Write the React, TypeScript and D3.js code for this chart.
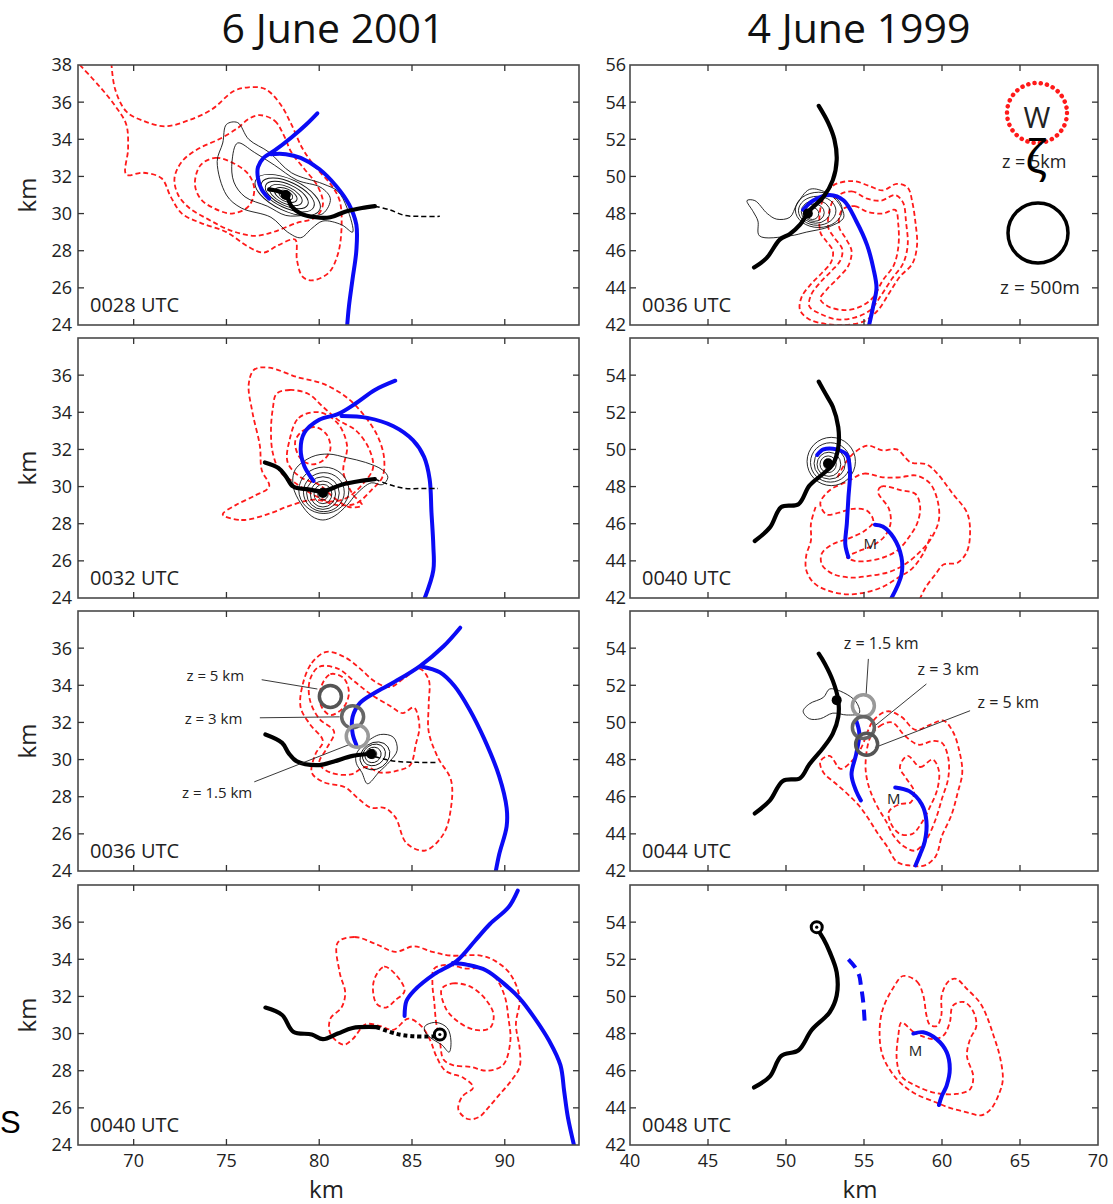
import React from "react";
import * as d3 from "d3";

type Pt = [number, number];
// ring: cx, cy, rx, ry (km), tilt in degrees
type Ring = [number, number, number, number, number];
// note: text, text x, text y, line from x, y, line to x, y
type Note = [string, number, number, number, number, number, number];
type Mark = [number, number, string];

const titles = ["6 June 2001", "4 June 1999"];
const xTicksLeft = [70, 75, 80, 85, 90];
const yTicksLeft = [24, 26, 28, 30, 32, 34, 36, 38];
const xTicksRight = [40, 45, 50, 55, 60, 65, 70];
const yTicksRight = [42, 44, 46, 48, 50, 52, 54, 56];
const timesLeft = ["0028 UTC", "0032 UTC", "0036 UTC", "0040 UTC"];
const timesRight = ["0036 UTC", "0040 UTC", "0044 UTC", "0048 UTC"];

// ---------- 6 June 2001, 0028 UTC ----------
const red0028: Pt[][] = [
  [[67.1, 38], [68.2, 36.8], [69.0, 35.8], [69.6, 34.8], [69.7, 33.5], [69.6, 32.1], [70.5, 32.2], [71.5, 31.9], [72.0, 30.9], [72.6, 30.0], [73.6, 29.5], [75.0, 29.0], [76.2, 28.2], [77.0, 27.9], [77.8, 28.3], [78.7, 28.6], [78.8, 27.5], [79.1, 26.6], [79.6, 26.4], [80.5, 26.8], [81.0, 27.8], [81.2, 29.2], [81.1, 30.7], [80.6, 31.6], [79.8, 32.5], [79.1, 33.5], [78.5, 34.8], [77.9, 35.9], [77.1, 36.7], [76.2, 36.8], [75.4, 36.6], [74.2, 35.6], [72.9, 35.0], [71.7, 34.7], [70.5, 35.0], [69.6, 35.5], [69.0, 36.7], [68.8, 38.1]],
  [[76.8, 35.3], [77.6, 35.0], [78.1, 34.2], [78.5, 33.3], [79.2, 32.4], [79.9, 31.5], [80.2, 30.5], [79.8, 29.8], [78.8, 29.5], [77.5, 29.0], [76.5, 28.8], [75.2, 29.1], [74.0, 29.7], [73.0, 30.3], [72.4, 31.0], [72.2, 31.9], [72.6, 32.8], [73.5, 33.5], [74.6, 34.0], [75.6, 34.6], [76.2, 35.1], [76.8, 35.3]],
  [[73.6, 32.6], [74.4, 33.0], [75.4, 32.7], [76.2, 32.1], [76.5, 31.3], [76.2, 30.4], [75.3, 30.0], [74.3, 30.3], [73.6, 30.8], [73.3, 31.6], [73.6, 32.6]],
];
const blue0028: Pt[][] = [
  [[79.9, 35.4], [79.3, 34.8], [78.5, 34.1], [77.6, 33.4], [77.0, 33.0], [76.7, 32.5], [76.7, 31.9], [76.9, 31.3], [77.3, 30.8]],
  [[77.4, 33.2], [78.2, 33.2], [79.0, 33.0], [80.0, 32.4], [80.9, 31.5], [81.6, 30.5], [82.0, 29.4], [82.0, 28.0], [81.8, 26.5], [81.6, 25.0], [81.5, 23.9]],
];
const track0028: Pt[] = [[77.3, 31.3], [77.8, 31.2], [78.2, 31.0], [78.5, 30.4], [79.0, 30.0], [79.8, 29.8], [80.6, 29.8], [81.4, 30.1], [82.3, 30.3], [83.0, 30.4]];
const ext0028: Pt[] = [[83.0, 30.4], [83.8, 30.2], [84.6, 29.9], [85.4, 29.85], [86.5, 29.85]];
const thin0028: Pt[][] = [
  [[75.0, 34.8], [75.6, 34.9], [76.2, 34.0], [77.3, 33.3], [78.5, 32.2], [80.2, 31.6], [81.0, 31.2], [81.5, 30.3], [81.8, 29.0], [81.2, 29.4], [80.2, 29.6], [79.6, 29.2], [79.0, 28.7], [78.3, 29.0], [77.4, 29.8], [75.8, 30.3], [75.0, 31.0], [74.5, 32.8], [74.8, 33.8], [75.0, 34.8]],
  [[75.6, 33.8], [76.5, 33.3], [77.6, 32.6], [78.8, 31.8], [80.1, 31.4], [80.6, 30.8], [80.2, 30.0], [79.2, 29.9], [78.2, 29.9], [77.2, 30.4], [76.0, 30.9], [75.4, 31.7], [75.3, 32.8], [75.6, 33.8]],
];
const rings0028: Ring[] = [[78.3, 31.0, 1.9, 0.85, 25], [78.3, 31.0, 1.55, 0.7, 25], [78.25, 31.0, 1.25, 0.57, 25], [78.2, 31.0, 0.95, 0.45, 25], [78.2, 31.0, 0.65, 0.33, 25], [78.2, 31.0, 0.4, 0.22, 25]];
const marks0028: Mark[] = [[78.2, 31.0, "dot"]];

// ---------- 6 June 2001, 0032 UTC ----------
const red0032: Pt[][] = [
  [[74.8, 28.5], [75.8, 28.2], [77.2, 28.5], [78.5, 29.0], [79.8, 29.3], [81.0, 29.0], [82.0, 29.1], [82.8, 29.8], [83.4, 30.5], [83.5, 31.5], [83.2, 32.6], [82.6, 33.6], [81.6, 34.7], [80.3, 35.5], [78.8, 35.9], [77.3, 36.4], [76.5, 36.3], [76.2, 35.5], [76.4, 34.0], [76.8, 32.2], [76.9, 30.9], [77.3, 30.0], [76.5, 29.5], [75.5, 29.0], [74.8, 28.5]],
  [[77.7, 35.0], [78.4, 35.2], [79.4, 35.0], [80.2, 34.3], [81.0, 33.6], [82.0, 33.0], [82.7, 32.0], [82.9, 31.0], [82.4, 30.2], [81.5, 29.4], [80.6, 29.2], [79.6, 29.6], [78.7, 30.2], [77.9, 30.8], [77.5, 31.8], [77.4, 33.0], [77.5, 34.2], [77.7, 35.0]],
  [[78.4, 32.5], [78.9, 33.7], [80.0, 34.0], [81.0, 33.4], [81.5, 32.2], [81.3, 30.8], [81.8, 29.6], [82.3, 29.0], [81.6, 28.9], [80.8, 29.4], [80.0, 30.1], [79.0, 30.5], [78.3, 31.3], [78.4, 32.5]],
  [[78.7, 32.4], [79.1, 33.0], [79.8, 33.2], [80.4, 32.8], [80.6, 32.0], [80.2, 31.4], [79.6, 31.2], [79.0, 31.5], [78.7, 32.4]],
];
const blue0032: Pt[][] = [
  [[84.1, 35.7], [83.0, 35.2], [82.0, 34.5], [81.0, 33.9], [80.0, 33.6], [79.2, 32.9], [79.0, 32.0], [79.2, 31.1], [79.7, 30.3]],
  [[81.2, 33.8], [82.6, 33.7], [84.0, 33.25], [85.05, 32.5], [85.65, 31.6], [85.95, 30.4], [86.05, 28.6], [86.15, 26.8], [86.15, 25.5], [85.65, 23.9]],
];
const track0032: Pt[] = [[77.07, 31.3], [77.8, 31.0], [78.2, 30.55], [78.6, 30.0], [79.4, 29.85], [80.2, 29.75], [81.2, 30.1], [82.2, 30.3], [83.0, 30.4]];
const ext0032: Pt[] = [[83.0, 30.4], [83.8, 30.1], [84.65, 29.9], [85.5, 29.9], [86.4, 29.9]];
const thin0032: Pt[][] = [
  [[78.7, 30.9], [79.6, 31.6], [80.5, 31.75], [81.5, 31.55], [82.5, 31.3], [83.4, 30.9], [83.7, 30.5], [83.4, 30.1], [82.8, 30.2], [82.0, 29.6], [81.5, 29.0], [80.8, 28.4], [80.2, 28.2], [79.6, 28.4], [79.0, 29.1], [78.6, 30.0], [78.7, 30.9]],
];
const rings0032: Ring[] = [[80.25, 29.8, 1.35, 1.25, 0], [80.25, 29.7, 1.1, 1.05, 0], [80.2, 29.65, 0.88, 0.88, 0], [80.2, 29.6, 0.68, 0.7, 0], [80.2, 29.6, 0.48, 0.52, 0], [80.2, 29.6, 0.28, 0.32, 0]];
const marks0032: Mark[] = [[80.2, 29.65, "dot"]];

// ---------- 6 June 2001, 0036 UTC ----------
const red0036a: Pt[][] = [
  [[79.1, 34.0], [79.6, 35.2], [80.4, 35.8], [81.4, 35.5], [82.2, 34.9], [83.0, 34.2], [83.8, 33.9], [84.6, 34.4], [85.4, 34.9], [85.9, 34.3], [85.9, 33.0], [85.9, 31.5], [86.4, 30.1], [87.1, 28.9], [87.1, 27.4], [86.7, 26.0], [85.7, 25.1], [84.7, 25.5], [84.1, 26.9], [83.5, 27.4], [82.8, 27.4], [82.1, 27.9], [81.4, 28.5], [80.2, 28.8], [79.6, 29.3], [79.8, 30.3], [80.2, 31.0], [79.5, 31.9], [79.0, 32.8], [79.1, 34.0]],
  [[79.5, 34.3], [80.0, 35.0], [81.0, 34.9], [81.9, 34.2], [82.8, 33.5], [83.8, 32.9], [84.5, 32.5], [85.1, 32.8], [85.4, 31.8], [85.2, 30.8], [84.9, 29.7], [84.2, 29.4], [83.3, 29.3], [82.5, 29.6], [81.7, 29.2], [80.6, 29.3], [80.0, 29.8], [80.4, 30.6], [80.8, 31.5], [80.0, 32.2], [79.5, 33.2], [79.5, 34.3]],
  [[80.1, 33.9], [80.6, 34.6], [81.3, 34.4], [81.6, 33.6], [81.3, 32.8], [80.6, 32.4], [80.1, 32.9], [80.1, 33.9]],
];
const blue0036a: Pt[][] = [
  [[87.6, 37.1], [86.7, 36.1], [85.45, 35.05], [84.0, 34.15], [83.0, 33.6], [82.2, 33.05], [81.8, 32.3], [81.8, 31.4], [82.0, 30.8]],
  [[85.55, 35.0], [86.5, 34.7], [87.3, 33.95], [88.1, 32.7], [88.9, 31.1], [89.7, 29.1], [90.1, 27.4], [90.1, 26.4], [89.7, 24.9], [89.5, 23.9]],
];
const track0036a: Pt[] = [[77.1, 31.35], [78.0, 30.9], [78.35, 30.35], [78.8, 29.9], [80.0, 29.7], [80.8, 29.9], [81.8, 30.2], [82.8, 30.3]];
const ext0036a: Pt[] = [[83.0, 30.15], [83.6, 30.0], [84.2, 29.9], [85.3, 29.85], [86.4, 29.85]];
const thin0036a: Pt[][] = [
  [[82.0, 30.3], [82.5, 30.9], [83.3, 31.35], [84.0, 31.2], [84.2, 30.5], [83.8, 29.9], [83.2, 29.3], [82.6, 28.7], [82.3, 29.3], [82.0, 29.8], [82.0, 30.3]],
];
const rings0036a: Ring[] = [[83.0, 30.2, 0.85, 0.7, -35], [82.95, 30.25, 0.65, 0.55, -35], [82.9, 30.25, 0.45, 0.4, -35], [82.85, 30.3, 0.25, 0.25, 0]];
const marks0036a: Mark[] = [[82.8, 30.3, "dot"]];
const heights0036a: Mark[] = [[80.6, 33.4, "#555"], [81.8, 32.3, "#666"], [82.05, 31.25, "#999"]];
const notes0036a: Note[] = [
  ["z = 5 km", 74.4, 34.5, 76.9, 34.3, 79.9, 33.8],
  ["z = 3 km", 74.3, 32.2, 76.8, 32.25, 81.1, 32.3],
  ["z = 1.5 km", 74.5, 28.2, 76.5, 28.8, 81.6, 30.8],
];

// ---------- 6 June 2001, 0040 UTC ----------
const red0040a: Pt[][] = [
  [[81.0, 34.9], [81.9, 35.2], [83.1, 34.8], [84.1, 34.4], [85.1, 34.7], [86.1, 34.4], [87.1, 34.2], [88.7, 34.2], [89.5, 33.9], [90.3, 33.2], [90.8, 31.9], [90.6, 30.5], [90.8, 29.2], [90.8, 28.2], [90.3, 27.4], [89.7, 26.7], [89.1, 26.0], [88.6, 25.5], [88.0, 25.4], [87.5, 25.9], [87.7, 26.6], [88.3, 27.1], [87.8, 27.6], [86.8, 28.0], [86.3, 28.8], [86.0, 29.6], [85.5, 30.4], [84.8, 30.8], [84.0, 30.2], [83.3, 30.4], [82.5, 30.5], [81.8, 29.7], [81.3, 29.4], [80.6, 30.0], [80.6, 30.8], [81.2, 31.4], [81.4, 32.2], [81.1, 33.3], [81.0, 34.9]],
  [[83.0, 33.0], [83.5, 33.6], [84.1, 33.2], [84.6, 32.3], [84.1, 31.8], [83.6, 31.4], [83.1, 31.6], [82.9, 32.3], [83.0, 33.0]],
  [[86.2, 33.5], [87.0, 33.7], [87.9, 33.5], [88.8, 33.5], [89.5, 33.0], [90.0, 32.0], [90.2, 30.8], [90.3, 29.6], [89.9, 28.3], [89.0, 28.0], [88.2, 28.2], [87.2, 28.3], [86.7, 28.6], [86.5, 29.6], [86.3, 30.6], [86.2, 31.7], [86.1, 32.7], [86.2, 33.5]],
  [[86.6, 32.4], [87.2, 32.7], [88.2, 32.5], [89.0, 31.8], [89.4, 31.0], [89.2, 30.3], [88.4, 30.2], [87.4, 30.7], [86.8, 31.4], [86.6, 32.4]],
];
const blue0040a: Pt[][] = [
  [[90.7, 37.7], [90.2, 36.8], [89.2, 35.9], [88.4, 35.0], [87.4, 33.9], [86.2, 33.2], [85.1, 32.3], [84.7, 31.75], [84.6, 30.95]],
  [[87.2, 33.8], [88.0, 33.7], [89.0, 33.4], [90.0, 32.65], [90.8, 31.9], [91.6, 30.85], [92.4, 29.6], [93.0, 28.3], [93.2, 26.9], [93.4, 25.5], [93.75, 23.9]],
];
const track0040a: Pt[] = [[77.1, 31.4], [78.0, 31.0], [78.6, 30.1], [79.6, 29.95], [80.2, 29.7], [81.0, 30.0], [81.8, 30.3], [83.1, 30.35]];
const ext0040a: Pt[] = [[83.1, 30.35], [84.1, 30.0], [85.1, 29.85], [86.45, 29.85]];
const thin0040a: Pt[][] = [
  [[85.7, 30.4], [86.3, 30.6], [86.9, 30.3], [87.1, 29.6], [87.0, 29.0], [86.6, 29.4], [86.1, 29.7], [85.7, 30.1], [85.7, 30.4]],
];
const marks0040a: Mark[] = [[86.5, 29.95, "ring"]];

// ---------- 4 June 1999, 0036 UTC ----------
const red0036b: Pt[][] = [
  [[52.3, 48.6], [53.0, 49.5], [54.3, 49.75], [55.3, 49.5], [56.2, 49.25], [57.1, 49.6], [57.8, 49.4], [58.1, 48.6], [58.3, 47.5], [58.4, 46.3], [58.1, 45.3], [57.3, 44.6], [56.6, 43.7], [55.9, 42.8], [55.0, 42.2], [53.8, 42.0], [52.6, 42.05], [51.5, 42.3], [50.9, 42.8], [51.0, 43.5], [51.6, 44.2], [52.3, 44.8], [52.9, 45.4], [53.0, 46.0], [52.6, 46.5], [52.2, 47.0], [52.3, 48.6]],
  [[53.1, 48.8], [54.2, 49.2], [55.2, 48.8], [56.1, 48.7], [57.0, 49.0], [57.5, 48.6], [57.7, 47.5], [57.8, 46.3], [57.5, 45.3], [56.8, 44.5], [56.1, 43.6], [55.4, 42.8], [54.4, 42.4], [53.3, 42.3], [52.2, 42.6], [51.5, 43.0], [51.6, 43.6], [52.2, 44.3], [52.9, 44.9], [53.5, 45.5], [53.6, 46.1], [53.1, 46.7], [52.7, 47.3], [53.1, 48.8]],
  [[53.6, 48.2], [54.4, 48.4], [55.2, 48.1], [56.2, 48.0], [57.0, 48.2], [57.2, 47.4], [57.2, 46.2], [56.9, 45.2], [56.2, 44.4], [55.6, 43.5], [54.8, 43.0], [53.8, 42.8], [52.7, 43.0], [52.2, 43.4], [52.6, 43.9], [53.3, 44.5], [54.0, 45.2], [54.2, 46.0], [53.8, 46.7], [53.4, 47.3], [53.6, 48.2]],
];
const blue0036b: Pt[][] = [
  [[51.1, 48.2], [51.75, 48.7], [52.8, 49.0], [53.7, 48.7], [54.5, 47.6], [55.2, 46.3], [55.6, 45.05], [55.8, 44.0], [55.6, 43.05], [55.3, 41.9]],
];
const track0036b: Pt[] = [[47.95, 45.1], [48.75, 45.6], [49.6, 46.6], [50.25, 46.9], [50.9, 47.4], [51.5, 48.15], [52.4, 48.9], [53.0, 49.8], [53.25, 50.9], [53.1, 52.0], [52.7, 52.9], [52.1, 53.8]];
const thin0036b: Pt[][] = [
  [[47.5, 48.7], [48.0, 48.7], [48.8, 48.0], [49.4, 47.7], [50.25, 47.8], [50.7, 48.5], [51.5, 49.3], [52.4, 49.2], [53.25, 48.7], [53.7, 47.8], [52.8, 47.3], [51.3, 47.0], [50.25, 46.8], [48.3, 46.8], [48.2, 47.6], [47.9, 48.1], [47.5, 48.7]],
];
const rings0036b: Ring[] = [[52.1, 48.2, 1.5, 0.95, 0], [52.0, 48.15, 1.2, 0.78, 0], [51.9, 48.1, 0.92, 0.62, 0], [51.8, 48.05, 0.65, 0.47, 0], [51.7, 48.0, 0.4, 0.32, 0]];
const marks0036b: Mark[] = [[51.4, 48.0, "dot"]];

// ---------- 4 June 1999, 0040 UTC ----------
const red0040b: Pt[][] = [
  [[53.3, 48.5], [54.1, 49.6], [55.2, 50.2], [56.2, 49.95], [57.1, 50.0], [58.0, 49.3], [59.0, 49.2], [59.7, 48.7], [60.7, 47.6], [61.6, 46.6], [61.8, 45.6], [61.6, 44.5], [61.0, 43.9], [60.1, 43.8], [59.6, 43.3], [58.9, 42.5], [58.5, 41.8]],
  [[54.0, 48.3], [55.0, 48.7], [56.2, 48.5], [57.3, 48.5], [58.3, 48.6], [59.2, 48.2], [59.7, 47.3], [59.8, 46.2], [59.3, 45.2], [58.6, 44.5], [57.6, 43.8], [56.6, 43.4], [55.4, 43.2], [54.2, 43.1], [53.0, 43.3], [52.3, 43.8], [52.3, 44.4], [53.0, 44.9], [54.0, 45.2], [55.0, 45.6], [55.6, 46.1], [55.2, 46.7], [54.3, 46.8], [53.4, 46.6], [52.6, 46.5], [52.2, 47.1], [52.8, 47.8], [54.0, 48.3]],
  [[51.9, 46.9], [51.6, 46.0], [51.6, 45.1], [51.3, 44.3], [51.3, 43.5], [51.8, 42.8], [52.7, 42.4], [53.9, 42.2], [55.1, 42.3], [56.2, 42.6], [57.2, 43.1], [58.1, 43.6], [58.8, 44.4], [59.3, 45.4]],
  [[55.9, 47.7], [56.1, 48.0], [57.4, 47.8], [58.3, 47.6], [58.6, 46.9], [58.4, 46.0], [57.9, 45.3], [57.2, 44.6], [56.3, 44.2], [55.3, 44.0], [54.4, 44.0], [53.9, 44.2], [54.6, 44.5], [55.5, 44.8], [56.3, 45.3], [56.7, 46.0], [56.6, 46.8], [55.9, 47.7]],
];
const blue0040b: Pt[][] = [
  [[52.0, 49.7], [52.4, 50.0], [53.25, 50.0], [53.9, 49.7], [54.1, 48.85], [54.0, 47.4], [53.9, 46.0], [53.8, 44.9], [54.0, 44.2]],
  [[55.7, 45.95], [56.2, 45.85], [56.9, 45.25], [57.4, 44.2], [57.4, 43.25], [56.7, 41.9]],
];
const track0040b: Pt[] = [[48.0, 45.07], [48.97, 45.8], [49.7, 46.9], [50.8, 47.05], [51.5, 48.05], [52.4, 48.7], [53.0, 49.2], [53.35, 50.1], [53.35, 51.2], [53.0, 52.3], [52.6, 52.9], [52.1, 53.65]];
const rings0040b: Ring[] = [[52.9, 49.35, 1.55, 1.3, 0], [52.85, 49.3, 1.28, 1.06, 0], [52.8, 49.25, 1.0, 0.85, 0], [52.75, 49.2, 0.76, 0.65, 0], [52.7, 49.2, 0.52, 0.45, 0], [52.7, 49.2, 0.28, 0.26, 0]];
const marks0040b: Mark[] = [[52.7, 49.25, "dot"]];
const meso0040b: Pt[] = [[55.4, 44.9]];

// ---------- 4 June 1999, 0044 UTC ----------
const red0044: Pt[][] = [
  [[54.8, 48.6], [55.6, 50.1], [56.5, 50.6], [57.4, 50.3], [58.3, 49.6], [59.3, 49.9], [60.1, 50.1], [60.7, 49.5], [61.1, 48.5], [61.3, 47.3], [61.0, 46.2], [60.6, 45.0], [60.0, 43.9], [59.6, 42.8], [58.9, 42.3], [57.9, 42.3], [57.1, 42.5], [56.5, 43.3], [55.9, 44.0], [55.3, 44.8], [54.7, 45.5], [54.0, 46.1], [53.2, 46.7], [52.4, 47.3], [52.2, 47.9], [52.8, 48.2], [53.5, 47.5], [54.2, 47.9], [54.8, 48.6]],
  [[55.4, 49.2], [56.0, 49.8], [56.8, 50.0], [57.6, 49.3], [58.5, 48.8], [59.4, 49.0], [60.0, 48.9], [60.4, 48.1], [60.4, 47.0], [60.0, 45.9], [59.6, 44.8], [59.0, 43.7], [58.3, 43.1], [57.6, 43.3], [56.9, 43.9], [56.4, 44.7], [55.9, 45.4], [55.5, 46.1], [55.2, 46.9], [55.1, 47.8], [55.4, 49.2]],
  [[57.8, 48.2], [58.6, 47.6], [59.4, 48.0], [59.8, 47.4], [59.7, 46.4], [59.2, 45.4], [58.7, 44.6], [58.1, 44.0], [57.3, 44.0], [56.7, 44.6], [56.6, 45.2], [57.3, 45.6], [58.0, 45.7], [58.2, 46.3], [57.7, 47.0], [57.3, 47.6], [57.8, 48.2]],
];
const blue0044: Pt[][] = [
  [[54.5, 50.1], [54.7, 49.4], [54.5, 48.3], [54.2, 47.2], [54.5, 46.3], [54.8, 45.8]],
  [[57.0, 46.5], [57.9, 46.3], [58.7, 45.6], [59.0, 44.7], [58.9, 43.6], [58.6, 42.9], [58.3, 42.3]],
];
const track0044: Pt[] = [[48.0, 45.1], [48.97, 45.8], [49.8, 46.85], [50.9, 47.0], [51.5, 47.75], [52.4, 48.65], [53.0, 49.4], [53.35, 50.3], [53.35, 51.2], [53.0, 52.25], [52.5, 53.15], [52.1, 53.7]];
const thin0044: Pt[][] = [
  [[51.1, 50.6], [51.5, 51.0], [52.4, 51.35], [52.8, 51.8], [53.7, 51.6], [54.5, 51.1], [54.7, 50.5], [53.9, 50.4], [53.0, 50.5], [52.2, 50.2], [51.5, 50.2], [51.1, 50.6]],
];
const marks0044: Mark[] = [[53.25, 51.2, "dot"]];
const heights0044: Mark[] = [[54.96, 50.9, "#999"], [54.96, 49.73, "#666"], [55.17, 48.83, "#555"]];
const notes0044: Note[] = [
  ["z = 1.5 km", 56.1, 54.27, 55.28, 53.42, 55.13, 51.44],
  ["z = 3 km", 60.4, 52.88, 59.0, 52.07, 55.7, 49.82],
  ["z = 5 km", 64.25, 51.08, 61.8, 50.63, 55.7, 48.65],
];
const meso0044: Pt[] = [[56.9, 45.9]];

// ---------- 4 June 1999, 0048 UTC ----------
const red0048: Pt[][] = [
  [[57.5, 51.1], [58.4, 50.8], [58.8, 50.05], [59.0, 49.0], [59.2, 48.5], [59.65, 48.4], [59.95, 48.95], [59.98, 50.05], [60.4, 50.8], [60.9, 50.95], [61.6, 50.4], [62.4, 49.7], [62.85, 48.97], [63.3, 47.9], [63.7, 46.8], [63.9, 45.55], [63.7, 44.85], [63.1, 43.9], [62.5, 43.6], [61.6, 43.76], [60.5, 44.0], [59.6, 44.3], [58.2, 44.8], [57.1, 45.55], [56.2, 46.8], [56.0, 48.1], [56.2, 49.3], [56.9, 50.5], [57.5, 51.1]],
  [[57.4, 48.6], [58.15, 48.1], [58.6, 47.9], [59.45, 47.7], [60.1, 47.9], [60.5, 48.6], [60.7, 49.5], [61.4, 49.7], [62.0, 49.2], [62.2, 48.4], [61.8, 47.7], [61.6, 46.8], [62.0, 45.7], [61.8, 45.0], [60.9, 44.75], [59.6, 44.8], [58.3, 45.2], [57.4, 45.7], [57.1, 46.6], [57.2, 47.9], [57.4, 48.6]],
];
const blue0048: Pt[][] = [
  [[58.16, 48.0], [58.8, 48.07], [59.65, 47.7], [60.3, 47.0], [60.5, 46.1], [60.3, 45.2], [60.0, 44.66], [59.8, 44.15]],
];
const blueDash0048: Pt[] = [[54.0, 52.0], [54.4, 51.6], [54.7, 51.1], [54.8, 50.6], [54.95, 49.7], [55.06, 48.4]];
const track0048: Pt[] = [[47.95, 45.1], [48.97, 45.7], [49.7, 46.8], [50.8, 47.1], [51.65, 48.2], [52.8, 49.15], [53.25, 50.05], [53.25, 51.3], [52.8, 52.4], [52.4, 53.1], [52.0, 53.64]];
const marks0048: Mark[] = [[51.97, 53.73, "ring"]];
const meso0048: Pt[] = [[58.3, 47.1]];

// ---------- layout ----------
const COLS = [
  { left: 78, right: 579, xDomain: [67, 94], yDomain: [24, 38], xTicks: xTicksLeft, yTicks: yTicksLeft },
  { left: 630, right: 1098, xDomain: [40, 70], yDomain: [42, 56], xTicks: xTicksRight, yTicks: yTicksRight },
];
const ROW_TOPS = [65, 338, 611, 885];
const ROW_H = 260;
const FONT = "'Open Sans', 'Noto Sans', sans-serif";

interface PanelSpec {
  col: number; row: number; time: string;
  red: Pt[][]; blue: Pt[][]; blueDash?: Pt[];
  track: Pt[]; ext?: Pt[]; extBold?: boolean;
  thin?: Pt[][]; rings?: Ring[]; marks?: Mark[];
  heights?: Mark[]; notes?: Note[]; notesSize?: number; meso?: Pt[];
  legend?: boolean;
}

const panels: PanelSpec[] = [
  { col: 0, row: 0, time: timesLeft[0], red: red0028, blue: blue0028, track: track0028, ext: ext0028, thin: thin0028, rings: rings0028, marks: marks0028 },
  { col: 0, row: 1, time: timesLeft[1], red: red0032, blue: blue0032, track: track0032, ext: ext0032, thin: thin0032, rings: rings0032, marks: marks0032 },
  { col: 0, row: 2, time: timesLeft[2], red: red0036a, blue: blue0036a, track: track0036a, ext: ext0036a, thin: thin0036a, rings: rings0036a, marks: marks0036a, heights: heights0036a, notes: notes0036a, notesSize: 15 },
  { col: 0, row: 3, time: timesLeft[3], red: red0040a, blue: blue0040a, track: track0040a, ext: ext0040a, extBold: true, thin: thin0040a, marks: marks0040a },
  { col: 1, row: 0, time: timesRight[0], red: red0036b, blue: blue0036b, track: track0036b, thin: thin0036b, rings: rings0036b, marks: marks0036b, legend: true },
  { col: 1, row: 1, time: timesRight[1], red: red0040b, blue: blue0040b, track: track0040b, rings: rings0040b, marks: marks0040b, meso: meso0040b },
  { col: 1, row: 2, time: timesRight[2], red: red0044, blue: blue0044, track: track0044, thin: thin0044, marks: marks0044, heights: heights0044, notes: notes0044, notesSize: 16, meso: meso0044 },
  { col: 1, row: 3, time: timesRight[3], red: red0048, blue: blue0048, blueDash: blueDash0048, track: track0048, marks: marks0048, meso: meso0048 },
];

function Panel({ p }: { p: PanelSpec }) {
  const c = COLS[p.col];
  const top = ROW_TOPS[p.row];
  const bottom = top + ROW_H;
  const x = d3.scaleLinear().domain(c.xDomain).range([c.left, c.right]);
  const y = d3.scaleLinear().domain(c.yDomain).range([bottom, top]);

  const pathOf = (pts: Pt[]) => {
    const n = pts.length;
    const closed = n > 2 && pts[0][0] === pts[n - 1][0] && pts[0][1] === pts[n - 1][1];
    const gen = d3.line<Pt>()
      .x(d => x(d[0]))
      .y(d => y(d[1]))
      .curve(closed ? d3.curveCatmullRomClosed.alpha(0.5) : d3.curveCatmullRom.alpha(0.5));
    return gen(closed ? pts.slice(0, -1) : pts) || "";
  };

  const clipId = `clip-${p.col}-${p.row}`;
  const isBottom = p.row === 3;
  const yLabels = p.row === 0 ? c.yTicks : c.yTicks.slice(0, -1);
  const innerX = c.xTicks.filter(t => x(t) > c.left + 1 && x(t) < c.right - 1);
  const innerY = c.yTicks.filter(t => y(t) < bottom - 1 && y(t) > top + 1);

  return (
    <g>
      <defs>
        <clipPath id={clipId}>
          <rect x={c.left} y={top} width={c.right - c.left} height={ROW_H} />
        </clipPath>
      </defs>
      <rect x={c.left} y={top} width={c.right - c.left} height={ROW_H} fill="#fff" />

      <g clipPath={`url(#${clipId})`}>
        {p.red.map((pts, i) => (
          <path key={"r" + i} d={pathOf(pts)} fill="none" stroke="#ff1a1a" strokeWidth={1.8} strokeDasharray="5 3" />
        ))}
        {(p.thin || []).map((pts, i) => (
          <path key={"t" + i} d={pathOf(pts)} fill="none" stroke="#111" strokeWidth={0.9} />
        ))}
        {(p.rings || []).map((r, i) => {
          const cx = x(r[0]), cy = y(r[1]);
          return (
            <ellipse key={"e" + i} cx={cx} cy={cy} rx={x(r[0] + r[2]) - cx} ry={cy - y(r[1] + r[3])}
              transform={`rotate(${r[4]} ${cx} ${cy})`} fill="none" stroke="#111" strokeWidth={0.9} />
          );
        })}
        {p.blue.map((pts, i) => (
          <path key={"b" + i} d={pathOf(pts)} fill="none" stroke="#0b0bf5" strokeWidth={4} strokeLinecap="round" />
        ))}
        {p.blueDash && (
          <path d={pathOf(p.blueDash)} fill="none" stroke="#0b0bf5" strokeWidth={4} strokeDasharray="11 7" />
        )}
        {p.ext && (
          <path d={pathOf(p.ext)} fill="none" stroke="#000"
            strokeWidth={p.extBold ? 4 : 1.5} strokeDasharray={p.extBold ? "4 3" : "5 3"} />
        )}
        <path d={pathOf(p.track)} fill="none" stroke="#000" strokeWidth={4.2} strokeLinecap="round" strokeLinejoin="round" />
        {(p.marks || []).map((m, i) =>
          m[2] === "dot" ? (
            <circle key={"m" + i} cx={x(m[0])} cy={y(m[1])} r={5} fill="#000" />
          ) : (
            <g key={"m" + i}>
              <circle cx={x(m[0])} cy={y(m[1])} r={5.5} fill="#fff" stroke="#000" strokeWidth={3} />
              <circle cx={x(m[0])} cy={y(m[1])} r={1.6} fill="#000" />
            </g>
          )
        )}
        {(p.notes || []).map((n, i) => (
          <line key={"nl" + i} x1={x(n[3])} y1={y(n[4])} x2={x(n[5])} y2={y(n[6])} stroke="#222" strokeWidth={0.9} />
        ))}
        {(p.heights || []).map((h, i) => (
          <circle key={"h" + i} cx={x(h[0])} cy={y(h[1])} r={11} fill="none" stroke={h[2]} strokeWidth={3.5} />
        ))}
        {(p.notes || []).map((n, i) => (
          <text key={"nt" + i} x={x(n[1])} y={y(n[2])} dy="0.35em" textAnchor="middle"
            fontFamily={FONT} fontSize={p.notesSize || 15} fill="#222">{n[0]}</text>
        ))}
        {(p.meso || []).map((m, i) => (
          <text key={"M" + i} x={x(m[0])} y={y(m[1])} dy="0.35em" textAnchor="middle"
            fontFamily={FONT} fontSize={15} fill="#222">M</text>
        ))}
      </g>

      {/* frame and inward ticks */}
      <rect x={c.left} y={top} width={c.right - c.left} height={ROW_H} fill="none" stroke="#4a4a4a" strokeWidth={1.6} />
      {innerX.map(t => (
        <g key={"xt" + t}>
          <line x1={x(t)} x2={x(t)} y1={bottom} y2={bottom - 6} stroke="#333" strokeWidth={1.3} />
          <line x1={x(t)} x2={x(t)} y1={top} y2={top + 6} stroke="#333" strokeWidth={1.3} />
        </g>
      ))}
      {innerY.map(t => (
        <g key={"yt" + t}>
          <line x1={c.left} x2={c.left + 6} y1={y(t)} y2={y(t)} stroke="#333" strokeWidth={1.3} />
          <line x1={c.right} x2={c.right - 6} y1={y(t)} y2={y(t)} stroke="#333" strokeWidth={1.3} />
        </g>
      ))}
      {yLabels.map(t => (
        <text key={"yl" + t} x={c.left - (p.col === 0 ? 6 : 4)} y={y(t)} dy="0.36em" textAnchor="end"
          fontFamily={FONT} fontSize={18} fill="#222">{t}</text>
      ))}
      {isBottom && c.xTicks.map(t => (
        <text key={"xl" + t} x={x(t)} y={bottom + 22} textAnchor="middle"
          fontFamily={FONT} fontSize={18} fill="#222">{t}</text>
      ))}
      {isBottom && (
        <text x={(c.left + c.right) / 2 + (p.col === 0 ? -2 : -4)} y={bottom + 53} textAnchor="middle"
          fontFamily={FONT} fontSize={24} fill="#222">km</text>
      )}
      {p.col === 0 && (
        <text transform={`translate(36, ${top + ROW_H / 2}) rotate(-90)`} textAnchor="middle"
          fontFamily={FONT} fontSize={24} fill="#222">km</text>
      )}
      <text x={c.left + 12} y={bottom - 13} fontFamily={FONT} fontSize={20} fill="#222">{p.time}</text>

      {p.legend && (
        <g fontFamily={FONT} fill="#222">
          <circle cx={c.right - 61} cy={top + 48} r={30} fill="none" stroke="#ff1a1a" strokeWidth={4.5}
            strokeDasharray="0.1 6.2" strokeLinecap="round" />
          <text x={c.right - 61} y={top + 63} textAnchor="middle" fontSize={29}>W</text>
          <text x={c.right - 96} y={top + 103} fontSize={18}>z = 5km</text>
          <text x={c.right - 62} y={top + 108} textAnchor="middle" fontSize={46} fill="#000">ζ</text>
          <circle cx={c.right - 60} cy={top + 168} r={30} fill="none" stroke="#000" strokeWidth={3.5} />
          <text x={c.right - 58} y={top + 229} textAnchor="middle" fontSize={19}>z = 500m</text>
        </g>
      )}
    </g>
  );
}

export default function App() {
  return (
    <svg width={1113} height={1204} viewBox="0 0 1113 1204"
      style={{ position: "absolute", left: 0, top: 0, background: "#fff" }}>
      <rect x={0} y={0} width={1113} height={1204} fill="#fff" />
      {titles.map((t, i) => (
        <text key={t} x={i === 0 ? 333 : 859} y={43} textAnchor="middle"
          fontFamily={FONT} fontSize={41} fill="#111">{t}</text>
      ))}
      {panels.map(p => <Panel key={`${p.col}-${p.row}`} p={p} />)}
      <text x={0} y={1133} fontFamily="'Liberation Sans', Arial, sans-serif" fontSize={31} fill="#000">S</text>
    </svg>
  );
}
